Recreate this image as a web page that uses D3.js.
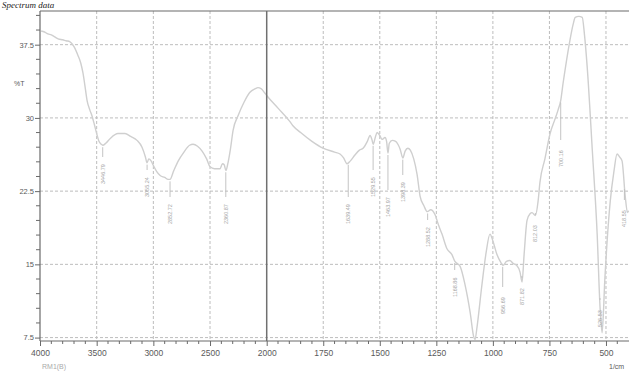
<!DOCTYPE html>
<html><head><meta charset="utf-8">
<script src="https://cdn.jsdelivr.net/npm/d3@7"></script>
<style>body{margin:0;background:#fff}svg{display:block}</style>
</head><body>
<svg id="c" width="629" height="371"></svg>
<script>
const wavenumbers = [3990,3960,3930,3900,3870,3840,3800,3770,3735,3700,3665,3640,3621,3600,3585,3560,3541,3520,3500,3480,3460,3446,3420,3380,3312,3250,3200,3144,3100,3070,3056,3040,3020,3003,2970,2940,2900,2870,2853,2820,2780,2730,2680,2650,2610,2570,2530,2500,2460,2412,2390,2375,2360,2345,2320,2297,2250,2200,2150,2100,2077,2050,2020,2000,1950,1900,1884,1850,1800,1751,1700,1676,1660,1645,1630,1610,1590,1574,1555,1543,1535,1529,1520,1512,1500,1490,1477,1470,1464,1458,1445,1430,1420,1410,1398,1388,1376,1365,1350,1335,1322,1305,1290,1275,1256,1240,1225,1203,1181,1168,1159,1145,1123,1100,1085,1079,1070,1050,1030,1013,1000,982,965,955,940,925,911,895,880,871,862,849,835,827,812,800,792,770,747,725,712,700,690,675,659,645,636,620,605,595,583,560,539,526,517,505,490,481,465,451,440,429,415,405,400];
const transmittance = [38.9,38.8,38.6,38.5,38.3,38.1,38.0,37.9,37.8,37.3,36.4,35.6,34.6,33.0,31.8,30.8,30.2,29.3,28.4,27.6,27.3,27.2,27.4,27.9,28.4,28.4,28.1,27.7,27.0,26.0,25.4,25.8,25.6,25.2,24.5,24.1,23.9,23.7,23.7,24.6,25.6,26.5,27.2,27.3,27.1,26.6,25.8,25.0,24.8,24.8,25.3,25.2,24.6,25.2,26.8,28.7,30.3,31.6,32.6,33.0,33.1,33.0,32.6,32.3,31.0,29.7,29.2,28.5,27.6,26.9,26.5,26.3,25.9,25.3,25.6,26.2,26.7,26.9,27.6,28.2,27.8,27.3,28.0,28.5,28.2,27.8,28.0,27.6,26.4,27.4,27.7,27.6,27.3,26.8,25.9,26.6,26.9,26.7,25.8,24.2,22.0,21.0,20.4,20.6,20.1,19.0,18.1,16.6,16.0,15.3,15.1,14.8,12.9,10.0,7.6,7.3,8.6,12.6,16.2,18.1,17.4,16.0,15.2,14.9,15.3,15.4,15.1,14.9,14.2,13.2,16.0,19.5,20.2,20.3,20.0,21.5,23.4,25.8,28.4,29.9,30.8,31.8,33.5,35.8,38.0,39.6,40.3,40.4,40.3,38.5,35.2,26.5,18.1,10.5,8.0,13.5,19.0,21.5,24.5,26.3,26.0,25.6,22.0,20.3,20.5];
const peakLabels = ["3446.79","3055.24","2852.72","2360.87","1639.49","1529.55","1463.97","1398.39","1288.52","1168.86","956.69","871.82","812.03","700.16","526.53","418.55"];
const peakWn = [3446.79,3055.24,2852.72,2360.87,1639.49,1529.55,1463.97,1398.39,1288.52,1168.86,956.69,871.82,812.03,700.16,526.53,418.55];
const peakLabelTop = [157,170,197,197,197,170,190,175,220,270,287,278,215,140,300,200];
const xTickValues = [4000,3500,3000,2500,2000,1750,1500,1250,1000,750,500];
const yTickValues = [7.5,15,22.5,30,37.5];

const svg = d3.select("#c");
const x = d3.scaleLinear().domain([4000,2000,400]).range([40,266.7,628.6]);
const y = d3.scaleLinear().domain([7.15,40.95]).range([341,11]);
const axisCol = "#6a6a6a", gridCol = "#bdbdbd", textCol = "#5a5a5a";

// title
svg.append("text").attr("x",2).attr("y",8).attr("font-family","Liberation Serif").attr("font-style","italic")
  .attr("font-size",9).attr("fill","#222").text("Spectrum data");

// grid
const g = svg.append("g");
g.selectAll("line.gx").data(xTickValues.filter(d=>d!==4000 && d!==2000)).enter().append("line")
  .attr("x1",d=>x(d)).attr("x2",d=>x(d)).attr("y1",11).attr("y2",341)
  .attr("stroke",gridCol).attr("stroke-width",1).attr("stroke-dasharray","3,2");
g.selectAll("line.gy").data(yTickValues).enter().append("line")
  .attr("x1",40).attr("x2",629).attr("y1",d=>y(d)).attr("y2",d=>y(d))
  .attr("stroke",gridCol).attr("stroke-width",1).attr("stroke-dasharray","3,2");

// spectrum
const pts = wavenumbers.map((w,i)=>[w,transmittance[i]]);
const line = d3.line().x(d=>x(d[0])).y(d=>y(d[1])).curve(d3.curveMonotoneX);
svg.append("path").datum(pts).attr("d",line).attr("fill","none").attr("stroke","#cfcfcf").attr("stroke-width",1.4);

// peak labels
const interp = w => { for(let i=0;i<wavenumbers.length-1;i++){ if(w<=wavenumbers[i] && w>=wavenumbers[i+1]){const t=(wavenumbers[i]-w)/(wavenumbers[i]-wavenumbers[i+1]); return transmittance[i]+t*(transmittance[i+1]-transmittance[i]);} } return transmittance[transmittance.length-1]; };
peakWn.forEach((w,i)=>{
  const px = x(w), top = peakLabelTop[i];
  const py = y(interp(w));
  const gl = svg.append("g");
  gl.append("line").attr("x1",px).attr("x2",px).attr("y1",Math.min(py+2,top-2)).attr("y2",top)
    .attr("stroke","#bdbdbd").attr("stroke-width",0.9);
  gl.append("text").attr("transform",`translate(${px+2},${top+27}) rotate(-90)`)
    .attr("font-family","Liberation Sans").attr("font-size",5.5).attr("fill","#a5a5a5").text(peakLabels[i]);
});

// axes frame
svg.append("line").attr("x1",40).attr("x2",40).attr("y1",11).attr("y2",341).attr("stroke",axisCol).attr("stroke-width",1.2);
svg.append("line").attr("x1",40).attr("x2",629).attr("y1",11).attr("y2",11).attr("stroke",axisCol).attr("stroke-width",1.2);
svg.append("line").attr("x1",x(2000)).attr("x2",x(2000)).attr("y1",11).attr("y2",341).attr("stroke","#707070").attr("stroke-width",1.5);

// x axis
const xAxis = d3.axisBottom(x).tickValues(xTickValues).tickSize(5).tickFormat(d3.format("d"));
const xa = svg.append("g").attr("transform","translate(0,341)").call(xAxis);
xa.select(".domain").attr("stroke",axisCol).attr("d","M40,0H629");
xa.selectAll(".tick line").attr("stroke",axisCol);
xa.selectAll(".tick text").attr("fill",textCol).attr("font-family","Liberation Sans").attr("font-size",8.5).attr("dy","0.85em");
const minorX = d3.range(3900,2000,-100).concat(d3.range(1950,400,-50)).filter(d=>xTickValues.indexOf(d)<0);
svg.append("g").selectAll("line").data(minorX).enter().append("line")
  .attr("x1",d=>x(d)).attr("x2",d=>x(d)).attr("y1",341).attr("y2",344).attr("stroke",axisCol);

// y axis
const yAxis = d3.axisLeft(y).tickValues(yTickValues).tickSize(5).tickFormat(d=>String(d));
const ya = svg.append("g").attr("transform","translate(40,0)").call(yAxis);
ya.select(".domain").remove();
ya.selectAll(".tick line").attr("stroke",axisCol);
ya.selectAll(".tick text").attr("fill",textCol).attr("font-family","Liberation Sans").attr("font-size",7.5).attr("x",-6);
const minorY = d3.range(9,40.9,1.5).filter(d=>yTickValues.every(t=>Math.abs(t-d)>0.01));
svg.append("g").selectAll("line").data(minorY).enter().append("line")
  .attr("x1",36).attr("x2",40).attr("y1",d=>y(d)).attr("y2",d=>y(d)).attr("stroke",axisCol);

svg.append("text").attr("x",14).attr("y",86).attr("font-family","Liberation Sans").attr("font-size",7).attr("fill",textCol).text("%T");
svg.append("text").attr("x",42).attr("y",369).attr("font-family","Liberation Sans").attr("font-size",7).attr("fill","#aaa").text("RM1(B)");
svg.append("text").attr("x",609).attr("y",369).attr("font-family","Liberation Sans").attr("font-size",7).attr("fill",textCol).text("1/cm");
</script>
</body></html>
